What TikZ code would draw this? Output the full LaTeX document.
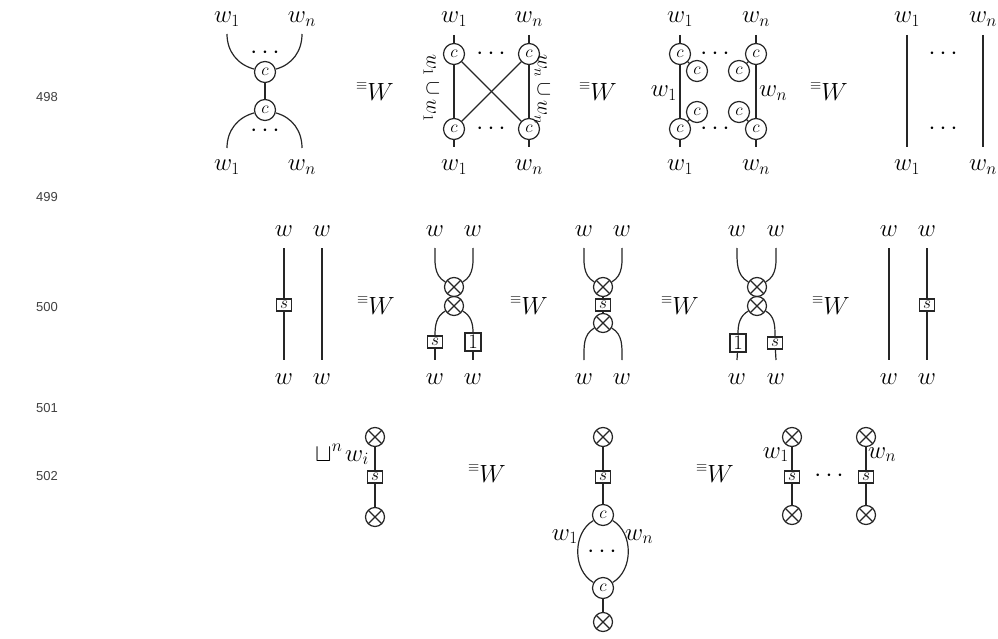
\documentclass[tikz,border=0pt]{standalone}
\usepackage{fontspec}
\newfontfamily\numfont{Liberation Sans}
\newcommand{\eqW}{\raisebox{11pt}{\fontsize{15}{17}\selectfont$\equiv$}$W$}
\begin{document}
\begin{tikzpicture}[x=1pt,y=-1pt,
  wire/.style={line width=1.2pt, draw=black!85},
  cn/.style={circle, draw=black!85, line width=1.2pt, minimum size=21pt, inner sep=0pt, font=\fontsize{17}{20}\selectfont},
  ot/.style={circle, draw=black!85, line width=1.2pt, minimum size=19pt, inner sep=0pt,
    path picture={\draw[line width=1.2pt, black!85] (path picture bounding box.north west) -- (path picture bounding box.south east) (path picture bounding box.north east) -- (path picture bounding box.south west);}},
  sb/.style={rectangle, draw=black!85, line width=1.2pt, minimum width=15pt, minimum height=12pt, inner sep=0pt, fill=white, font=\fontsize{16}{18}\selectfont},
  ob/.style={rectangle, draw=black!85, line width=1.2pt, minimum width=16pt, minimum height=18pt, inner sep=0pt, fill=white, font=\fontsize{22}{26}\selectfont},
  lab/.style={font=\fontsize{25}{29}\selectfont, inner sep=0pt},
  rlab/.style={font=\fontsize{22}{26}\selectfont, inner sep=0pt, rotate=-90},
  eqv/.style={font=\fontsize{24}{28}\selectfont, inner sep=0pt, anchor=base},
  num/.style={font=\numfont\fontsize{13}{15}\selectfont, text=black!75, inner sep=0pt}
]
\useasboundingbox (0,0) rectangle (998,639);

% line numbers
\node[num] (n498) at (47,97) {498};
\node[num] (n499) at (47,197) {499};
\node[num] (n500) at (47,307) {500};
\node[num] (n501) at (47,408) {501};
\node[num] (n502) at (47,476) {502};

% ===== Row 1 =====
% diagram 1
\coordinate (a1) at (227,34);
\coordinate (a2) at (302,34);
\coordinate (a3) at (227,148);
\coordinate (a4) at (302,148);
\node[cn] (c1) at (265,72) {$c$};
\node[cn] (c2) at (265,110) {$c$};
\draw[wire] (a1) to[out=-90,in=165] (c1);
\draw[wire] (a2) to[out=-90,in=15] (c1);
\draw[wire] (c1) -- (c2);
\draw[wire] (c2) to[out=195,in=90] (a3);
\draw[wire] (c2) to[out=-15,in=90] (a4);
\node[lab] (d1) at (265,53) {$\cdots$};
\node[lab] (d2) at (265,131) {$\cdots$};
\node[lab,anchor=base] (l1) at (227,23) {$w_1$};
\node[lab,anchor=base] (l2) at (302,23) {$w_n$};
\node[lab,anchor=base] (l3) at (227,171) {$w_1$};
\node[lab,anchor=base] (l4) at (302,171) {$w_n$};

\node[eqv] (e1) at (375,101) {\eqW};

% diagram 2
\coordinate (b1) at (454,35);
\coordinate (b2) at (529,35);
\coordinate (b3) at (454,147);
\coordinate (b4) at (529,147);
\node[cn] (c3) at (454,54) {$c$};
\node[cn] (c4) at (529,54) {$c$};
\node[cn] (c5) at (454,129) {$c$};
\node[cn] (c6) at (529,129) {$c$};
\draw[wire] (b1) -- (c3);
\draw[wire] (b2) -- (c4);
\draw[wire] (c5) -- (b3);
\draw[wire] (c6) -- (b4);
\draw[wire] (c3) -- (c5);
\draw[wire] (c4) -- (c6);
\draw[wire] (c3) -- (c6);
\draw[wire] (c4) -- (c5);
\node[lab] (d3) at (491,54) {$\cdots$};
\node[lab] (d4) at (491,129) {$\cdots$};
\node[rlab] (r1) at (431,88) {$w_1\cup w_1$};
\node[rlab] (r2) at (542,89) {$w_n\cup w_n$};
\node[lab,anchor=base] (l5) at (454,23) {$w_1$};
\node[lab,anchor=base] (l6) at (529,23) {$w_n$};
\node[lab,anchor=base] (l7) at (454,171) {$w_1$};
\node[lab,anchor=base] (l8) at (529,171) {$w_n$};

\node[eqv] (e2) at (598,101) {\eqW};

% diagram 3
\coordinate (f1) at (680,35);
\coordinate (f2) at (756,35);
\coordinate (f3) at (680,147);
\coordinate (f4) at (756,147);
\node[cn] (c7) at (680,54) {$c$};
\node[cn] (c8) at (756,54) {$c$};
\node[cn] (c9) at (680,129) {$c$};
\node[cn] (c10) at (756,129) {$c$};
\node[cn] (s1) at (697,71) {$c$};
\node[cn] (s2) at (739,71) {$c$};
\node[cn] (s3) at (697,112) {$c$};
\node[cn] (s4) at (739,112) {$c$};
\draw[wire] (f1) -- (c7);
\draw[wire] (f2) -- (c8);
\draw[wire] (c9) -- (f3);
\draw[wire] (c10) -- (f4);
\draw[wire] (c7) -- (c9);
\draw[wire] (c8) -- (c10);
\draw[wire] (c7) -- (s1);
\draw[wire] (c8) -- (s2);
\draw[wire] (c9) -- (s3);
\draw[wire] (c10) -- (s4);
\node[lab] (d5) at (715,54) {$\cdots$};
\node[lab] (d6) at (715,129) {$\cdots$};
\node[lab,anchor=base east] (l9) at (677,97) {$w_1$};
\node[lab,anchor=base west] (l10) at (759,97) {$w_n$};
\node[lab,anchor=base] (l11) at (680,23) {$w_1$};
\node[lab,anchor=base] (l12) at (756,23) {$w_n$};
\node[lab,anchor=base] (l13) at (680,171) {$w_1$};
\node[lab,anchor=base] (l14) at (756,171) {$w_n$};

\node[eqv] (e3) at (829,101) {\eqW};

% diagram 4
\coordinate (g1) at (907,35);
\coordinate (g2) at (983,35);
\coordinate (g3) at (907,147);
\coordinate (g4) at (983,147);
\draw[wire] (g1) -- (g3);
\draw[wire] (g2) -- (g4);
\node[lab] (d7) at (943,54) {$\cdots$};
\node[lab] (d8) at (943,129) {$\cdots$};
\node[lab,anchor=base] (l15) at (907,23) {$w_1$};
\node[lab,anchor=base] (l16) at (983,23) {$w_n$};
\node[lab,anchor=base] (l17) at (907,171) {$w_1$};
\node[lab,anchor=base] (l18) at (983,171) {$w_n$};

% ===== Row 2 =====
% diagram 5
\coordinate (h1) at (284,248);
\coordinate (h2) at (284,360);
\coordinate (h3) at (322,248);
\coordinate (h4) at (322,360);
\node[sb] (sb1) at (284,305) {$s$};
\draw[wire] (h1) -- (sb1);
\draw[wire] (sb1) -- (h2);
\draw[wire] (h3) -- (h4);
\node[lab,anchor=base] (m1) at (284,236) {$w$};
\node[lab,anchor=base] (m2) at (322,236) {$w$};
\node[lab,anchor=base] (m3) at (284,384) {$w$};
\node[lab,anchor=base] (m4) at (322,384) {$w$};

\node[eqv] (e4) at (376,314) {\eqW};

% diagram 6
\coordinate (i1) at (435,248);
\coordinate (i2) at (473,248);
\coordinate (i3) at (435,360);
\coordinate (i4) at (473,360);
\node[ot] (o1) at (454,287) {};
\node[ot] (o2) at (454,306) {};
\node[sb] (sb2) at (435,342) {$s$};
\node[ob] (ob1) at (473,342) {$1$};
\draw[wire] (i1) to[out=-90,in=150] (o1);
\draw[wire] (i2) to[out=-90,in=30] (o1);
\draw[wire] (o2) to[out=210,in=90] (sb2);
\draw[wire] (o2) to[out=-30,in=90] (ob1);
\draw[wire] (sb2) -- (i3);
\draw[wire] (ob1) -- (i4);
\node[lab,anchor=base] (m5) at (435,236) {$w$};
\node[lab,anchor=base] (m6) at (473,236) {$w$};
\node[lab,anchor=base] (m7) at (435,384) {$w$};
\node[lab,anchor=base] (m8) at (473,384) {$w$};

\node[eqv] (e5) at (529,314) {\eqW};

% diagram 7
\coordinate (j1) at (584,248);
\coordinate (j2) at (622,248);
\coordinate (j3) at (584,360);
\coordinate (j4) at (622,360);
\node[ot] (o3) at (603,287) {};
\node[sb] (sb3) at (603,305) {$s$};
\node[ot] (o4) at (603,323) {};
\draw[wire] (j1) to[out=-90,in=150] (o3);
\draw[wire] (j2) to[out=-90,in=30] (o3);
\draw[wire] (o3) -- (sb3);
\draw[wire] (sb3) -- (o4);
\draw[wire] (o4) to[out=210,in=90] (j3);
\draw[wire] (o4) to[out=-30,in=90] (j4);
\node[lab,anchor=base] (m9) at (584,236) {$w$};
\node[lab,anchor=base] (m10) at (622,236) {$w$};
\node[lab,anchor=base] (m11) at (584,384) {$w$};
\node[lab,anchor=base] (m12) at (622,384) {$w$};

\node[eqv] (e6) at (680,314) {\eqW};

% diagram 8
\coordinate (k1) at (737,248);
\coordinate (k2) at (776,248);
\coordinate (k3) at (737,360);
\coordinate (k4) at (776,360);
\node[ot] (o5) at (757,287) {};
\node[ot] (o6) at (757,306) {};
\node[ob] (ob2) at (738,343) {$1$};
\node[sb] (sb4) at (775,343) {$s$};
\draw[wire] (k1) to[out=-90,in=150] (o5);
\draw[wire] (k2) to[out=-90,in=30] (o5);
\draw[wire] (o6) to[out=210,in=90] (ob2);
\draw[wire] (o6) to[out=-30,in=90] (sb4);
\draw[wire] (ob2) -- (k3);
\draw[wire] (sb4) -- (k4);
\node[lab,anchor=base] (m13) at (737,236) {$w$};
\node[lab,anchor=base] (m14) at (776,236) {$w$};
\node[lab,anchor=base] (m15) at (737,384) {$w$};
\node[lab,anchor=base] (m16) at (776,384) {$w$};

\node[eqv] (e7) at (831,314) {\eqW};

% diagram 9
\coordinate (p1) at (889,248);
\coordinate (p2) at (889,360);
\coordinate (p3) at (927,248);
\coordinate (p4) at (927,360);
\node[sb] (sb5) at (927,305) {$s$};
\draw[wire] (p1) -- (p2);
\draw[wire] (p3) -- (sb5);
\draw[wire] (sb5) -- (p4);
\node[lab,anchor=base] (m17) at (889,236) {$w$};
\node[lab,anchor=base] (m18) at (927,236) {$w$};
\node[lab,anchor=base] (m19) at (889,384) {$w$};
\node[lab,anchor=base] (m20) at (927,384) {$w$};

% ===== Row 3 =====
% diagram 10
\node[ot] (o7) at (375,437) {};
\node[sb] (sb6) at (375,477) {$s$};
\node[ot] (o8) at (375,517) {};
\draw[wire] (o7) -- (sb6);
\draw[wire] (sb6) -- (o8);
\node[lab,anchor=base east,font=\fontsize{26}{30}\selectfont] (q1) at (369,461) {$\sqcup^n\mkern2mu w_i$};

\node[eqv] (e8) at (487,482) {\eqW};

% diagram 11
\node[ot] (o9) at (603,437) {};
\node[sb] (sb7) at (603,477) {$s$};
\node[cn] (c11) at (603,515) {$c$};
\node[cn] (c12) at (603,588) {$c$};
\node[ot] (o10) at (603,622) {};
\draw[wire] (o9) -- (sb7);
\draw[wire] (sb7) -- (c11);
\draw[wire] (c11) to[out=210,in=150] (c12);
\draw[wire] (c11) to[out=-30,in=30] (c12);
\draw[wire] (c12) -- (o10);
\node[lab] (d9) at (602,552) {$\cdots$};
\node[lab,anchor=base east] (q2) at (578,540) {$w_1$};
\node[lab,anchor=base west] (q3) at (625,540) {$w_n$};

\node[eqv] (e9) at (715,482) {\eqW};

% diagram 12
\node[ot] (o11) at (792,437) {};
\node[sb] (sb8) at (792,477) {$s$};
\node[ot] (o12) at (792,515) {};
\node[ot] (o13) at (866,437) {};
\node[sb] (sb9) at (866,477) {$s$};
\node[ot] (o14) at (866,515) {};
\draw[wire] (o11) -- (sb8);
\draw[wire] (sb8) -- (o12);
\draw[wire] (o13) -- (sb9);
\draw[wire] (sb9) -- (o14);
\node[lab] (d10) at (829,476) {$\cdots$};
\node[lab,anchor=base east] (q4) at (789,458) {$w_1$};
\node[lab,anchor=base west] (q5) at (868,458) {$w_n$};
\end{tikzpicture}
\end{document}
